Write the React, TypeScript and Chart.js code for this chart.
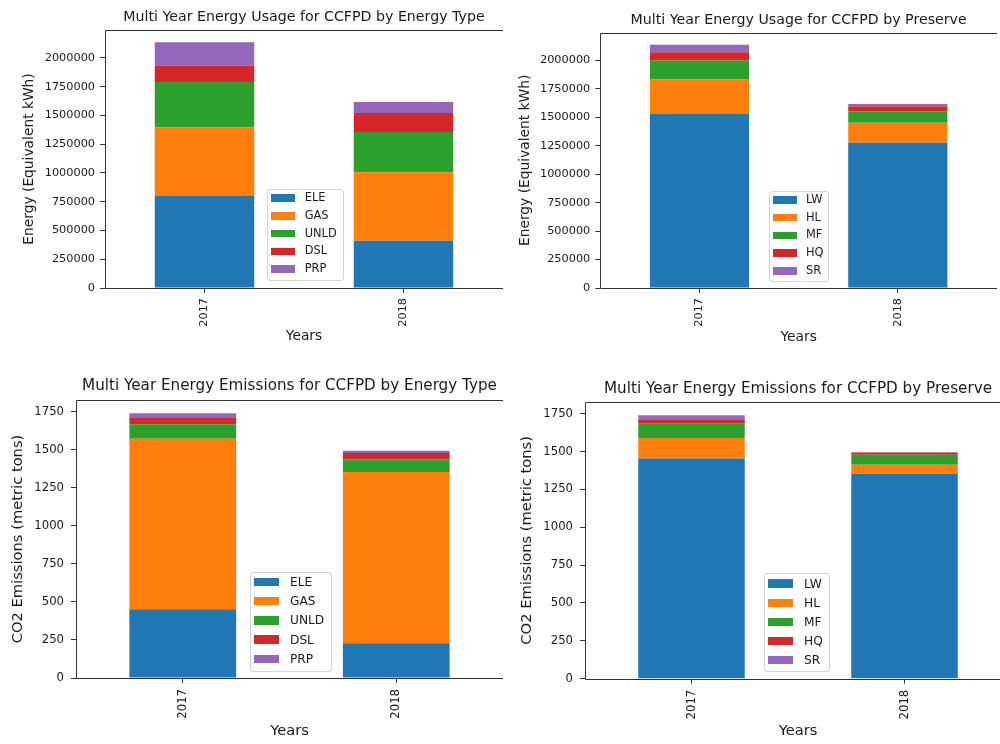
import React, { useEffect, useRef } from 'react';
import { Chart, registerables } from 'chart.js';

Chart.register(...registerables);

// ---------- data ----------
const years = ['2017', '2018'];

const energyTypes = ['ELE', 'GAS', 'UNLD', 'DSL', 'PRP'];
const preserves = ['LW', 'HL', 'MF', 'HQ', 'SR'];

// Energy usage (Equivalent kWh) by energy type
const usageELE = [803000, 410000];
const usageGAS = [593000, 596000];
const usageUNLD = [393000, 349000];
const usageDSL = [144000, 165000];
const usagePRP = [202000, 96000];

// Energy usage (Equivalent kWh) by preserve
const usageLW = [1532000, 1275000];
const usageHL = [298000, 175000];
const usageMF = [167000, 103000];
const usageHQ = [73000, 44000];
const usageSR = [65000, 19000];

// CO2 emissions (metric tons) by energy type
const co2ELE = [451, 228];
const co2GAS = [1122, 1126];
const co2UNLD = [94, 83];
const co2DSL = [41, 41];
const co2PRP = [32, 16];

// CO2 emissions (metric tons) by preserve
const co2LW = [1454, 1353];
const co2HL = [135, 60];
const co2MF = [95, 66];
const co2HQ = [24, 15];
const co2SR = [32, 1];

const usageTicks = [0, 250000, 500000, 750000, 1000000, 1250000, 1500000, 1750000, 2000000];
const co2Ticks = [0, 250, 500, 750, 1000, 1250, 1500, 1750];

const palette = ['#1f77b4', '#ff7f0e', '#2ca02c', '#d62728', '#9467bd'];

// ---------- layout ----------
const FONT = "'DejaVu Sans', 'Liberation Sans', sans-serif";
const TEXT = '#1a1a1a';
const LINE = '#333333';

type Legend = {
  left: number; top: number; width: number; height: number;
  patchLeft: number; patchW: number; patchH: number;
  firstCenter: number; spacing: number; textLeft: number; fontSize: number;
};

type PlotCfg = {
  title: string;
  yTitle: string;
  labels: string[];
  series: number[][];
  ticks: number[];
  cx: number;
  frame: { l: number; t: number; r: number; b: number };
  titleSize: number; titleMid: number;
  labelSize: number; xTitleMid: number; yTitleMid: number;
  tickSize: number; yTickPad: number; xTickPad: number;
  legend: Legend;
};

const plots: PlotCfg[] = [
  {
    title: 'Multi Year Energy Usage for CCFPD by Energy Type',
    yTitle: 'Energy (Equivalent kWh)',
    labels: energyTypes,
    series: [usageELE, usageGAS, usageUNLD, usageDSL, usagePRP],
    ticks: usageTicks,
    cx: 0,
    frame: { l: 105, t: 30, r: 503, b: 288 },
    titleSize: 14.2, titleMid: 17.4,
    labelSize: 13.8, xTitleMid: 336.9, yTitleMid: 29.3,
    tickSize: 11.3, yTickPad: 5, xTickPad: 5,
    legend: { left: 267, top: 189, width: 77, height: 92, patchLeft: 4.4, patchW: 23.3, patchH: 7.5,
      firstCenter: 9, spacing: 17.8, textLeft: 37.7, fontSize: 11.4 },
  },
  {
    title: 'Multi Year Energy Usage for CCFPD by Preserve',
    yTitle: 'Energy (Equivalent kWh)',
    labels: preserves,
    series: [usageLW, usageHL, usageMF, usageHQ, usageSR],
    ticks: usageTicks,
    cx: 505,
    frame: { l: 600.3, t: 32.7, r: 997, b: 288 },
    titleSize: 14.2, titleMid: 20.8,
    labelSize: 13.8, xTitleMid: 337.3, yTitleMid: 525.8,
    tickSize: 11.3, yTickPad: 5, xTickPad: 5,
    legend: { left: 769, top: 190.7, width: 60, height: 91.6, patchLeft: 3.7, patchW: 24, patchH: 7.5,
      firstCenter: 9.3, spacing: 17.75, textLeft: 37, fontSize: 11.4 },
  },
  {
    title: 'Multi Year Energy Emissions for CCFPD by Energy Type',
    yTitle: 'CO2 Emissions (metric tons)',
    labels: energyTypes,
    series: [co2ELE, co2GAS, co2UNLD, co2DSL, co2PRP],
    ticks: co2Ticks,
    cx: 0,
    frame: { l: 76, t: 400, r: 503.3, b: 678 },
    titleSize: 15.2, titleMid: 385.7,
    labelSize: 14.7, xTitleMid: 731.2, yTitleMid: 18,
    tickSize: 11.7, yTickPad: 7, xTickPad: 6,
    legend: { left: 250, top: 571.7, width: 81.7, height: 100, patchLeft: 4, patchW: 25.3, patchH: 8.5,
      firstCenter: 10.3, spacing: 19.2, textLeft: 40, fontSize: 12.2 },
  },
  {
    title: 'Multi Year Energy Emissions for CCFPD by Preserve',
    yTitle: 'CO2 Emissions (metric tons)',
    labels: preserves,
    series: [co2LW, co2HL, co2MF, co2HQ, co2SR],
    ticks: co2Ticks,
    cx: 505,
    frame: { l: 585, t: 402, r: 1011, b: 678.7 },
    titleSize: 15.2, titleMid: 388.7,
    labelSize: 14.7, xTitleMid: 731.5, yTitleMid: 527,
    tickSize: 11.7, yTickPad: 7, xTickPad: 6,
    legend: { left: 764, top: 572.7, width: 66, height: 99.6, patchLeft: 4.3, patchW: 25, patchH: 8.5,
      firstCenter: 11, spacing: 19.1, textLeft: 40, fontSize: 12.2 },
  },
];

function geometry(p: PlotCfg) {
  const titleLH = p.titleSize * 1.2;
  const labelLH = p.labelSize * 1.2;
  const y = Math.floor(p.titleMid - titleLH / 2);
  const titlePadTop = p.titleMid - titleLH / 2 - y;
  const titlePadBottom = p.frame.t - p.titleMid - titleLH / 2;
  const bottom = Math.ceil(p.xTitleMid + labelLH / 2);
  const h = bottom - y;
  const xTitlePadBottom = bottom - (p.xTitleMid + labelLH / 2);
  const xAxisH = bottom - p.frame.b;
  const w = Math.round(p.frame.r - p.cx);
  const yAxisW = p.frame.l - p.cx;
  const yTitlePadTop = p.yTitleMid - p.cx - labelLH / 2;
  return { x: p.cx, y, w, h, titlePadTop, titlePadBottom, xTitlePadBottom, xAxisH, yAxisW, yTitlePadTop };
}

const framePlugin = {
  id: 'mplFrame',
  afterDatasetsDraw(chart: any) {
    const { ctx, chartArea } = chart;
    const l = Math.round(chartArea.left) + 0.5;
    const t = Math.round(chartArea.top) + 0.5;
    const r = Math.round(chartArea.right) + 0.5;
    const b = Math.round(chartArea.bottom) + 0.5;
    ctx.save();
    ctx.strokeStyle = LINE;
    ctx.lineWidth = 1;
    ctx.beginPath();
    ctx.moveTo(l, t);
    ctx.lineTo(r, t);
    ctx.lineTo(r, b);
    ctx.lineTo(l, b);
    ctx.closePath();
    ctx.stroke();
    ctx.restore();
  },
};

const centerTitlePlugin = {
  id: 'centerTitleOverArea',
  afterLayout(chart: any) {
    const tb = chart.titleBlock;
    if (tb) {
      const c = (chart.chartArea.left + chart.chartArea.right) / 2;
      tb.left = c - 320;
      tb.right = c + 320;
    }
  },
};

function makeChart(canvas: HTMLCanvasElement, p: PlotCfg) {
  const g = geometry(p);
  const totals = years.map((_, i) => p.series.reduce((s, arr) => s + arr[i], 0));
  const yMax = Math.max(...totals) * 1.05;
  const tickFont = { family: FONT, size: p.tickSize };
  const labelFont = { family: FONT, size: p.labelSize };
  const gridOpts = {
    display: true,
    drawOnChartArea: false,
    drawTicks: true,
    tickLength: 5,
    color: LINE,
    lineWidth: 1,
    offset: false,
  };
  return new Chart(canvas, {
    type: 'bar',
    data: {
      labels: years,
      datasets: p.series.map((data, i) => ({
        label: p.labels[i],
        data,
        backgroundColor: palette[i],
        borderWidth: 0,
        barPercentage: 0.5,
        categoryPercentage: 1.0,
      })),
    },
    options: {
      responsive: false,
      animation: false,
      devicePixelRatio: 1,
      layout: { padding: 0 },
      plugins: {
        legend: { display: false },
        tooltip: { enabled: false },
        title: {
          display: true,
          text: p.title,
          color: TEXT,
          font: { family: FONT, size: p.titleSize, weight: 'normal' },
          padding: { top: g.titlePadTop, bottom: g.titlePadBottom },
        },
      },
      scales: {
        x: {
          stacked: true,
          offset: true,
          grid: gridOpts,
          border: { display: false },
          ticks: { minRotation: 90, maxRotation: 90, padding: p.xTickPad, color: TEXT, font: tickFont },
          title: {
            display: true,
            text: 'Years',
            color: TEXT,
            font: labelFont,
            padding: { top: 0, bottom: g.xTitlePadBottom },
          },
          afterFit: (s: any) => { s.height = g.xAxisH; },
        },
        y: {
          stacked: true,
          min: 0,
          max: yMax,
          grid: gridOpts,
          border: { display: false },
          ticks: {
            padding: p.yTickPad,
            color: TEXT,
            font: tickFont,
            autoSkip: false,
            callback: (v: any) => String(v),
          },
          afterBuildTicks: (s: any) => { s.ticks = p.ticks.map((v) => ({ value: v })); },
          title: {
            display: true,
            text: p.yTitle,
            color: TEXT,
            font: labelFont,
            padding: { top: g.yTitlePadTop, bottom: 0 },
          },
          afterFit: (s: any) => { s.width = g.yAxisW; },
        },
      },
    } as any,
    plugins: [framePlugin, centerTitlePlugin],
  });
}

function LegendBox({ p }: { p: PlotCfg }) {
  const L = p.legend;
  return (
    <div
      style={{
        position: 'absolute',
        left: L.left,
        top: L.top,
        width: L.width,
        height: L.height,
        boxSizing: 'border-box',
        border: '1px solid #d3d3d3',
        borderRadius: 3,
        background: 'rgba(255,255,255,0.8)',
        fontFamily: FONT,
        fontSize: L.fontSize,
        color: TEXT,
      }}
    >
      {p.labels.map((lab, i) => {
        const c = L.firstCenter + i * L.spacing - 1;
        return (
          <React.Fragment key={lab}>
            <div
              style={{
                position: 'absolute',
                left: L.patchLeft - 1,
                top: c - L.patchH / 2,
                width: L.patchW,
                height: L.patchH,
                background: palette[i],
              }}
            />
            <div
              style={{
                position: 'absolute',
                left: L.textLeft - 1,
                top: c,
                transform: 'translateY(-50%)',
                lineHeight: 1,
                whiteSpace: 'nowrap',
              }}
            >
              {lab}
            </div>
          </React.Fragment>
        );
      })}
    </div>
  );
}

export default function App() {
  const refs = [
    useRef<HTMLCanvasElement>(null),
    useRef<HTMLCanvasElement>(null),
    useRef<HTMLCanvasElement>(null),
    useRef<HTMLCanvasElement>(null),
  ];

  useEffect(() => {
    const charts = plots.map((p, i) => makeChart(refs[i].current as HTMLCanvasElement, p));
    return () => charts.forEach((c) => c.destroy());
  }, []);

  return (
    <div
      style={{
        position: 'absolute',
        left: 0,
        top: 0,
        width: 1000,
        height: 744,
        overflow: 'hidden',
        background: '#ffffff',
      }}
    >
      {plots.map((p, i) => {
        const g = geometry(p);
        return (
          <canvas
            key={i}
            ref={refs[i]}
            width={g.w}
            height={g.h}
            style={{ position: 'absolute', left: g.x, top: g.y, width: g.w, height: g.h }}
          />
        );
      })}
      {plots.map((p, i) => (
        <LegendBox key={'lg' + i} p={p} />
      ))}
    </div>
  );
}
